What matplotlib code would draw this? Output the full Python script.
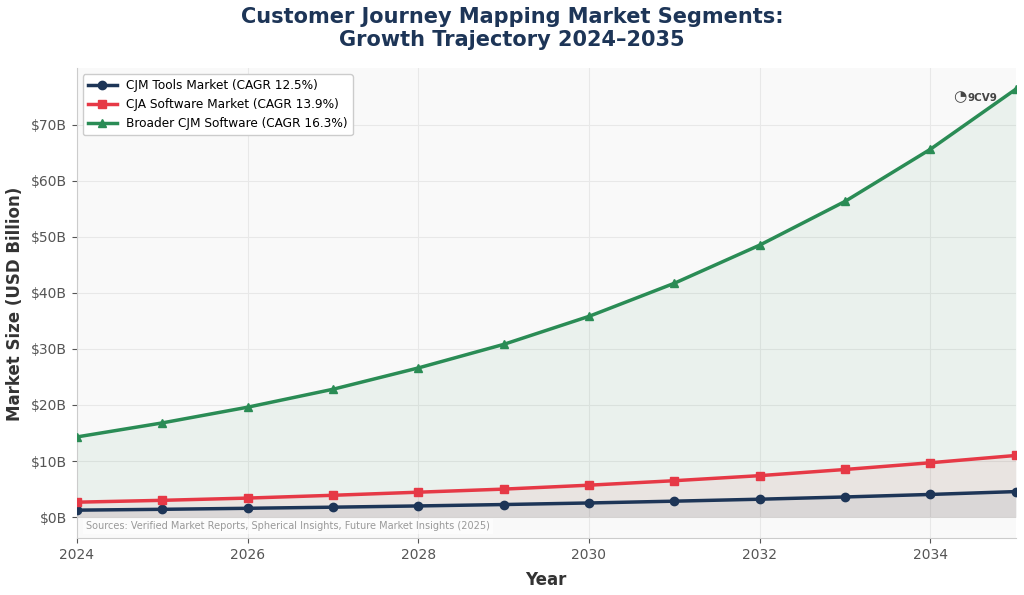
import numpy as np
import matplotlib.pyplot as plt
from matplotlib.ticker import FuncFormatter

years = list(range(2024, 2036))
cjm_tools = [1.25, 1.40, 1.58, 1.78, 2.00, 2.25, 2.53, 2.85, 3.20, 3.60, 4.05, 4.56]
cja_software = [2.67, 3.00, 3.40, 3.90, 4.45, 5.00, 5.70, 6.50, 7.40, 8.50, 9.70, 11.0]
broader_cjm = [14.3, 16.8, 19.6, 22.8, 26.6, 30.8, 35.8, 41.7, 48.5, 56.3, 65.6, 76.3]

labels = ['CJM Tools Market (CAGR 12.5%)',
          'CJA Software Market (CAGR 13.9%)',
          'Broader CJM Software (CAGR 16.3%)']
colors = ['#1d3557', '#e63946', '#2a8c55']
markers = ['o', 's', '^']


def main():
    fig = plt.figure(figsize=(10.24, 5.95), dpi=100, facecolor='white')
    ax = fig.add_axes([0.075, 0.095, 0.917, 0.79])
    ax.set_facecolor('#f9f9f9')

    series = [cjm_tools, cja_software, broader_cjm]
    # fills first, biggest at the back
    for vals, c in zip(series[::-1], colors[::-1]):
        ax.fill_between(years, 0, vals, color=c, alpha=0.07, lw=0)
    for vals, c, m, lab in zip(series, colors, markers, labels):
        ax.plot(years, vals, color=c, marker=m, markersize=6, lw=2.5, label=lab, zorder=3)

    ax.set_xlim(2024, 2035)
    ax.set_ylim(-3.8, 80)
    ax.set_xticks([2024, 2026, 2028, 2030, 2032, 2034])
    ax.set_yticks(range(0, 80, 10))
    ax.yaxis.set_major_formatter(FuncFormatter(lambda v, p: '$%dB' % v))
    ax.tick_params(colors='#555555', labelsize=10)
    ax.grid(color='#e8e8e8', lw=0.8)
    ax.set_axisbelow(True)
    for s in ['top', 'right']:
        ax.spines[s].set_visible(False)
    for s in ['left', 'bottom']:
        ax.spines[s].set_color('#cccccc')

    ax.set_xlabel('Year', fontsize=12, fontweight='bold', color='#333333', labelpad=6)
    ax.set_ylabel('Market Size (USD Billion)', fontsize=12, fontweight='bold', color='#333333', labelpad=5)
    fig.suptitle('Customer Journey Mapping Market Segments:\nGrowth Trajectory 2024\u20132035',
                 fontsize=15, fontweight='bold', color='#1d3557', y=0.988, linespacing=1.15)

    ax.legend(loc='upper left', fontsize=8.7, frameon=True, framealpha=1,
              edgecolor='#cccccc', borderaxespad=0.5, handlelength=2.4)

    ax.text(0.01, 0.015, 'Sources: Verified Market Reports, Spherical Insights, Future Market Insights (2025)',
            transform=ax.transAxes, fontsize=7, color='#999999', ha='left', va='bottom',
            bbox=dict(boxstyle='square,pad=0.3', fc='white', ec='none', alpha=0.6))

    ax.text(0.94, 0.94, '\u25d4', transform=ax.transAxes, fontsize=11, color='#444444',
            ha='center', va='center')
    ax.text(0.949, 0.937, '9CV9', transform=ax.transAxes, fontsize=7.5, color='#444444',
            ha='left', va='center', fontweight='bold')

    fig.savefig('out.png', dpi=100, facecolor='white')


if __name__ == '__main__':
    main()
